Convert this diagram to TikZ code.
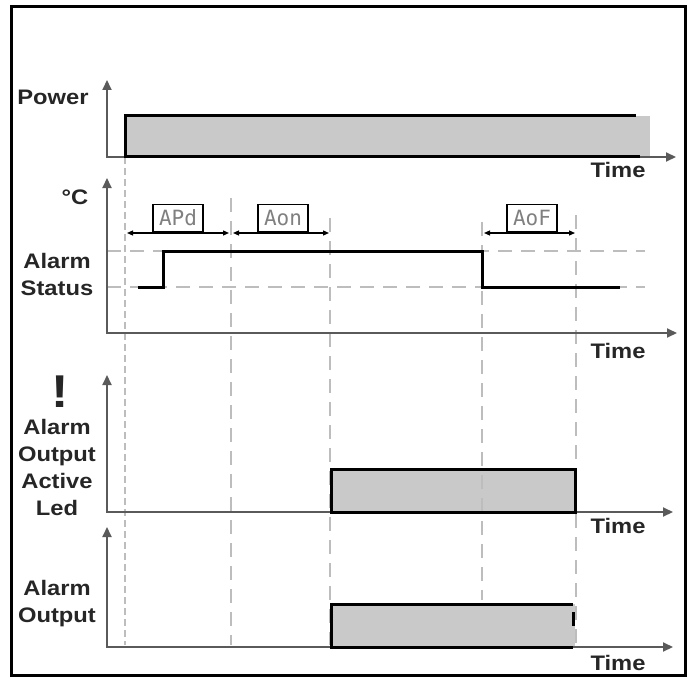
\documentclass[tikz,border=0pt]{standalone}
\usepackage{fontspec}
\setmainfont{Liberation Sans}
\newfontfamily\lblfont{Liberation Sans}[FakeStretch=1.13]
\newfontfamily\segfont{DejaVu Sans Mono}
\usetikzlibrary{arrows.meta}
\definecolor{axisgray}{HTML}{5A5A5A}
\definecolor{dashgray}{HTML}{BDBDBD}
\definecolor{boxgray}{HTML}{C8C9C8}
\tikzset{
  axis/.style={axisgray, line width=2pt, {Triangle[length=10pt,width=9pt]}-{Triangle[length=10pt,width=9pt]}},
  guide/.style={dashgray, line width=2.6pt, dash pattern=on 14pt off 9pt},
  thinguide/.style={dashgray, line width=1.2pt, dash pattern=on 7pt off 4pt},
  signal/.style={black, line width=3pt},
  span/.style={black, line width=1.2pt, {Triangle[length=6pt,width=5pt]}-{Triangle[length=6pt,width=5pt]}},
  lbl/.style={font=\fontsize{21}{27}\lblfont\bfseries, text=black!85, align=center, inner sep=0pt},
  codebox/.style={draw=black, line width=1.8pt, minimum width=50pt, minimum height=27pt, inner sep=0pt, font=\fontsize{21}{21}\segfont, text=gray},
}
\begin{document}
\begin{tikzpicture}[x=1pt,y=-1pt]
  \useasboundingbox (0,0) rectangle (690,679);
  \draw[black, line width=3pt] (11,7) rectangle (685,675);
  % filled levels
  \fill[boxgray] (125,116) rectangle (650,157);
  \fill[boxgray] (331,469) rectangle (575,512);
  \fill[boxgray] (331,604) rectangle (575,647);
  % guides
  \draw[thinguide] (125,157) -- (125,645);
  \draw[guide] (231,198) -- (231,645);
  \draw[guide] (330,218) -- (330,645);
  \draw[guide] (482,222) -- (482,600);
  \draw[guide] (576,215) -- (576,647);
  \draw[guide] (107,251) -- (645,251);
  \draw[guide] (107,287) -- (645,287);
  % axes
  \draw[axis] (107,80) |- (676,157);
  \draw[axis] (107,178) |- (677,333);
  \draw[axis] (107,375) |- (673,512);
  \draw[axis] (107,527) |- (673,647);
  % signals
  \draw[signal] (640,157) -- (125,157) -- (125,116) -- (636,116);
  \draw[signal] (138,287) -- (163,287) -- (163,251) -- (482,251) -- (482,287) -- (620,287);
  \draw[signal] (331,469) rectangle (575,512);
  \draw[signal] (573,647) -- (331,647) -- (331,604) -- (573,604);
  \draw[signal] (573,612) -- (573,626);
  % delay spans
  \coordinate (apdL) at (127,233);
  \coordinate (apdR) at (229,233);
  \coordinate (aonL) at (233,233);
  \coordinate (aonR) at (329,233);
  \coordinate (aofL) at (484,233);
  \coordinate (aofR) at (575,233);
  \draw[span] (apdL) -- (apdR);
  \draw[span] (aonL) -- (aonR);
  \draw[span] (aofL) -- (aofR);
  \node[codebox, fill=white] (apd) at (178,218) {APd};
  \node[codebox, fill=white] (aon) at (283,218) {Aon};
  \node[codebox, fill=white] (aof) at (532,218) {AoF};
  % labels
  \node[lbl] (power) at (53,97) {Power};
  \node[lbl] (degc) at (75,197) {°C};
  \node[lbl] (status) at (57,274) {Alarm\\Status};
  \node[lbl, font=\fontsize{46}{46}\lblfont\bfseries] (bang) at (60,392) {!};
  \node[lbl] (led) at (57,467) {Alarm\\Output\\Active\\Led};
  \node[lbl] (output) at (57,604) {Alarm\\Output};
  \node[lbl] (time1) at (618,170) {Time};
  \node[lbl] (time2) at (618,351) {Time};
  \node[lbl] (time3) at (618,526) {Time};
  \node[lbl] (time4) at (618,663) {Time};
\end{tikzpicture}
\end{document}
